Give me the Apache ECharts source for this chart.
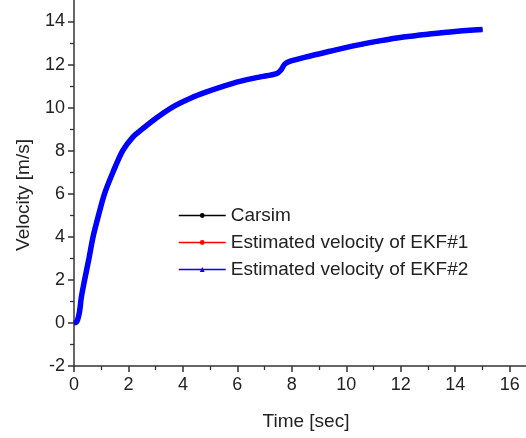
<!DOCTYPE html>
<html>
<head>
<meta charset="utf-8">
<script src="https://cdn.jsdelivr.net/npm/echarts@6/dist/echarts.min.js"></script>
<style>html,body{margin:0;padding:0;background:#fff;}#c{width:526px;height:438px;}</style>
</head>
<body>
<div id="c"></div>
<script>
var seriesNames = ['Carsim', 'Estimated velocity of EKF#1', 'Estimated velocity of EKF#2'];
var timeSec = [0, 0.1, 0.2, 0.27, 0.39, 0.55, 0.70, 0.90, 1.12, 1.43, 1.79, 2.16, 2.5, 3.0, 3.65, 4.3, 4.87, 5.5, 6.09, 6.8, 7.44, 7.6, 7.74, 7.92, 8.5, 9.4, 10.3, 11.22, 12.1, 13.05, 14.0, 15.0];
var carsim = [0, 0.05, 0.5, 1.2, 2.0, 3.0, 4.0, 5.0, 6.0, 7.0, 8.0, 8.63, 9.0, 9.5, 10.05, 10.45, 10.73, 11.0, 11.22, 11.42, 11.58, 11.75, 12.02, 12.15, 12.35, 12.62, 12.88, 13.1, 13.28, 13.42, 13.54, 13.63];
var ekf1 = [0, 0.05, 0.5, 1.2, 2.0, 3.0, 4.0, 5.0, 6.0, 7.0, 8.0, 8.63, 9.0, 9.5, 10.05, 10.45, 10.73, 11.0, 11.22, 11.42, 11.58, 11.75, 12.02, 12.15, 12.35, 12.62, 12.88, 13.1, 13.28, 13.42, 13.54, 13.63];
var ekf2 = [0, 0.05, 0.5, 1.2, 2.0, 3.0, 4.0, 5.0, 6.0, 7.0, 8.0, 8.63, 9.0, 9.5, 10.05, 10.45, 10.73, 11.0, 11.22, 11.42, 11.58, 11.75, 12.02, 12.15, 12.35, 12.62, 12.88, 13.1, 13.28, 13.42, 13.54, 13.63];
var xTicks = [0, 2, 4, 6, 8, 10, 12, 14, 16];
var xMinorTicks = [1, 3, 5, 7, 9, 11, 13, 15];
var yTicks = [-2, 0, 2, 4, 6, 8, 10, 12, 14];
var yMinorTicks = [-1, 1, 3, 5, 7, 9, 11, 13];

function pairs(xs, ys) { return xs.map(function (x, i) { return [x, ys[i]]; }); }

var font = 'Liberation Sans, Arial, sans-serif';
var X_MIN = 0, X_MAX = 16.6, Y_MIN = -2, Y_MAX = 15;
var tickColor = '#333';

function mainAxis(extra) {
  return Object.assign({
    type: 'value',
    axisLine: { show: true, onZero: false, lineStyle: { color: tickColor, width: 1.5 } },
    splitLine: { show: false },
    minorTick: { show: false }
  }, extra);
}
function minorAxis(extra) {
  return Object.assign({
    type: 'value',
    axisLine: { show: false, onZero: false },
    axisLabel: { show: false },
    splitLine: { show: false }
  }, extra);
}

var chart = echarts.init(document.getElementById('c'), null, { renderer: 'canvas' });
chart.setOption({
  animation: false,
  backgroundColor: '#fff',
  grid: { left: 74, right: 0, top: 0, bottom: 72, containLabel: false },
  xAxis: [
    mainAxis({
      position: 'bottom', min: X_MIN, max: X_MAX,
      name: 'Time [sec]', nameLocation: 'middle', nameGap: 46,
      nameTextStyle: { fontFamily: font, fontSize: 19, color: '#222', padding: [0, 0, 0, 12] },
      axisTick: { show: true, inside: false, length: 6, customValues: xTicks, lineStyle: { color: tickColor, width: 1.5 } },
      axisLabel: { fontFamily: font, fontSize: 18, color: '#222', margin: 10, customValues: xTicks }
    }),
    minorAxis({
      position: 'bottom', min: X_MIN, max: X_MAX,
      axisTick: { show: true, inside: false, length: 4, customValues: xMinorTicks, lineStyle: { color: tickColor, width: 1.3 } }
    })
  ],
  yAxis: [
    mainAxis({
      position: 'left', min: Y_MIN, max: Y_MAX,
      name: 'Velocity [m/s]', nameLocation: 'middle', nameGap: 41,
      nameTextStyle: { fontFamily: font, fontSize: 19, color: '#222', padding: [0, 24, 0, 0] },
      axisTick: { show: true, inside: false, length: 6, customValues: yTicks, lineStyle: { color: tickColor, width: 1.5 } },
      axisLabel: { fontFamily: font, fontSize: 18, color: '#222', margin: 9, customValues: yTicks }
    }),
    minorAxis({
      position: 'left', min: Y_MIN, max: Y_MAX,
      axisTick: { show: true, inside: false, length: 4, customValues: yMinorTicks, lineStyle: { color: tickColor, width: 1.3 } }
    })
  ],
  legend: {
    orient: 'vertical', left: 173, top: 201,
    itemWidth: 47, itemHeight: 6, itemGap: 8,
    textStyle: { fontFamily: font, fontSize: 19, color: '#222' },
    lineStyle: { width: 1.5 },
    data: seriesNames
  },
  series: [
    { name: seriesNames[0], type: 'line', data: pairs(timeSec, carsim), smooth: 0.3,
      symbol: 'circle', symbolSize: 4, showSymbol: false,
      lineStyle: { color: '#000', width: 4 }, itemStyle: { color: '#000' }, z: 2 },
    { name: seriesNames[1], type: 'line', data: pairs(timeSec, ekf1), smooth: 0.3,
      symbol: 'circle', symbolSize: 4, showSymbol: false,
      lineStyle: { color: '#ff0000', width: 4 }, itemStyle: { color: '#ff0000' }, z: 3 },
    { name: seriesNames[2], type: 'line', data: pairs(timeSec, ekf2), smooth: 0.3,
      symbol: 'triangle', symbolSize: 4, showSymbol: false,
      lineStyle: { color: '#0000ff', width: 5.5 }, itemStyle: { color: '#0000ff' }, z: 4 }
  ]
});
</script>
</body>
</html>
